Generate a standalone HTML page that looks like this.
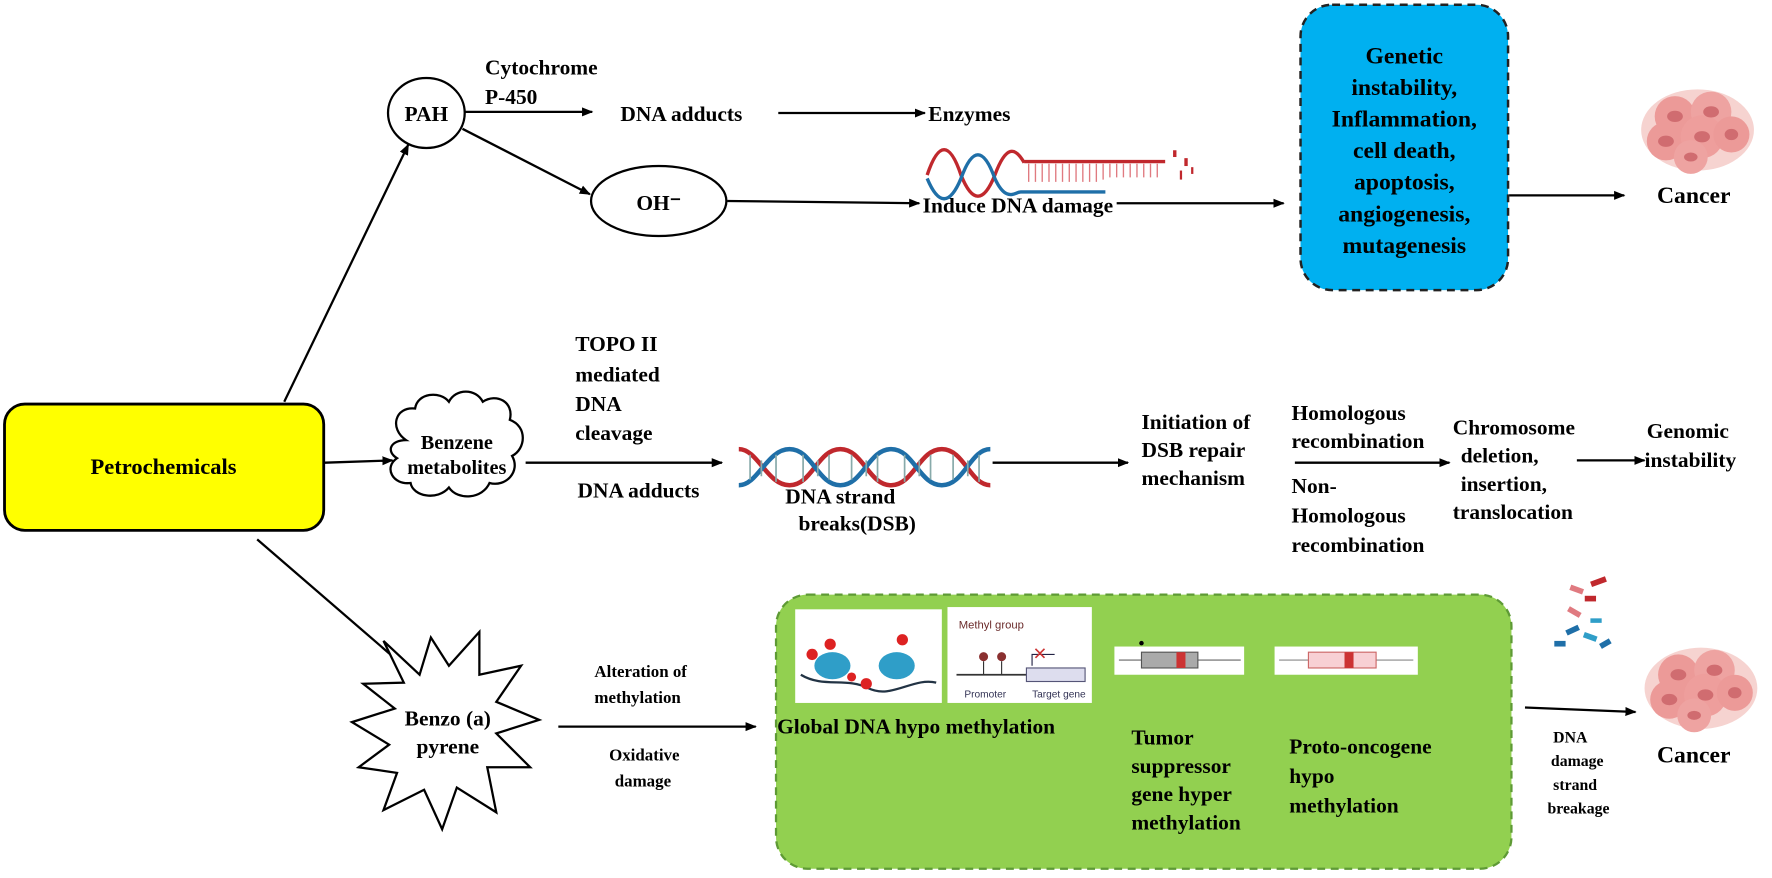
<!DOCTYPE html>
<html><head><meta charset="utf-8"><style>
html,body{margin:0;padding:0;background:#fff;}
svg{display:block;}
text{font-family:"Liberation Serif",serif;font-weight:bold;fill:#000;}
</style></head><body>
<svg width="1772" height="878" viewBox="0 0 1571 778" xmlns="http://www.w3.org/2000/svg">
<defs>
<marker id="a" markerWidth="10" markerHeight="10" refX="9" refY="5" orient="auto" markerUnits="userSpaceOnUse"><path d="M0,1 L10,5 L0,9 Z" fill="#000"/></marker>
<g id="cell">
<ellipse cx="0" cy="0" rx="50" ry="36" fill="#f6d3d0"/>
<circle cx="-20" cy="-12" r="18" fill="#ec9a98"/><circle cx="12" cy="-16" r="18" fill="#eea3a1"/>
<circle cx="-28" cy="10" r="17" fill="#ec9a98"/><circle cx="4" cy="6" r="19" fill="#ee9e9c"/>
<circle cx="30" cy="4" r="16" fill="#ec9a98"/><circle cx="-6" cy="24" r="15" fill="#eea3a1"/>
<ellipse cx="-20" cy="-12" rx="7" ry="5" fill="#d06c70"/><ellipse cx="12" cy="-16" rx="7" ry="5" fill="#d06c70"/>
<ellipse cx="-28" cy="10" rx="7" ry="5" fill="#d06c70"/><ellipse cx="4" cy="6" rx="7" ry="5" fill="#d06c70"/>
<ellipse cx="30" cy="4" rx="6" ry="5" fill="#d06c70"/><ellipse cx="-6" cy="24" rx="6" ry="4" fill="#d06c70"/>
</g>
</defs>

<!-- Petrochemicals -->
<rect x="4" y="358" width="283" height="112" rx="18" fill="#ffff00" stroke="#000" stroke-width="2.5"/>
<text x="145" y="420" font-size="20" text-anchor="middle">Petrochemicals</text>

<!-- connectors from petrochemicals -->
<line x1="252" y1="356" x2="362" y2="128" stroke="#000" stroke-width="2" marker-end="url(#a)"/>
<line x1="288" y1="410" x2="348" y2="408" stroke="#000" stroke-width="2" marker-end="url(#a)"/>
<line x1="228" y1="478" x2="360" y2="592" stroke="#000" stroke-width="2" marker-end="url(#a)"/>

<!-- PAH row -->
<ellipse cx="378" cy="100" rx="34" ry="31" fill="#fff" stroke="#000" stroke-width="2"/>
<text x="378" y="107" font-size="19" text-anchor="middle">PAH</text>
<text x="430" y="66" font-size="19">Cytochrome</text>
<text x="430" y="92" font-size="19">P-450</text>
<line x1="412" y1="99" x2="525" y2="99" stroke="#000" stroke-width="2" marker-end="url(#a)"/>
<text x="550" y="107" font-size="19">DNA adducts</text>
<line x1="690" y1="100" x2="820" y2="100" stroke="#000" stroke-width="2" marker-end="url(#a)"/>
<text x="823" y="107" font-size="19">Enzymes</text>
<line x1="410" y1="114" x2="523" y2="172" stroke="#000" stroke-width="2" marker-end="url(#a)"/>
<ellipse cx="584" cy="178" rx="60" ry="31" fill="#fff" stroke="#000" stroke-width="2"/>
<text x="584" y="186" font-size="19" text-anchor="middle">OH⁻</text>
<line x1="645" y1="178" x2="815" y2="180" stroke="#000" stroke-width="2" marker-end="url(#a)"/>
<text x="818" y="188" font-size="19">Induce DNA damage</text>
<!-- damaged DNA icon -->
<g stroke-width="3" fill="none">
<path d="M822,155 C832,125 842,125 852,155 C862,180 872,180 882,155 C892,128 900,130 908,144" stroke="#c0282d"/>
<path d="M822,158 C832,182 842,182 852,158 C862,130 872,130 882,158 C892,180 900,170 905,170 L980,170" stroke="#1f6fa8"/>
<line x1="908" y1="143" x2="1033" y2="143" stroke="#c0282d"/>
</g>
<g stroke="#e07a80" stroke-width="1.2">
<path d="M912,145v16M918,145v16M924,145v16M930,145v16M936,145v16M942,145v16M948,145v16M954,145v16M960,145v16M966,145v16M972,145v16M978,145v14M984,145v12M990,145v12M996,145v12M1002,145v12M1008,145v12M1014,145v12M1020,145v12M1026,145v12"/>
</g>
<g fill="#c0282d"><rect x="1040" y="133" width="3" height="6"/><rect x="1050" y="140" width="3" height="7"/><rect x="1046" y="151" width="2" height="8"/><rect x="1056" y="148" width="2" height="6"/></g>

<line x1="990" y1="180" x2="1138" y2="180" stroke="#000" stroke-width="2" marker-end="url(#a)"/>
<!-- blue box -->
<rect x="1153" y="4" width="184" height="253" rx="28" fill="#00b0f0" stroke="#222" stroke-width="2.2" stroke-dasharray="7,5"/>
<g font-size="21" text-anchor="middle">
<text x="1245" y="56">Genetic</text>
<text x="1245" y="84">instability,</text>
<text x="1245" y="112">Inflammation,</text>
<text x="1245" y="140">cell death,</text>
<text x="1245" y="168">apoptosis,</text>
<text x="1245" y="196">angiogenesis,</text>
<text x="1245" y="224">mutagenesis</text>
</g>
<line x1="1338" y1="173" x2="1440" y2="173" stroke="#000" stroke-width="2" marker-end="url(#a)"/>
<text x="1469" y="180" font-size="21">Cancer</text>
<use href="#cell" x="1505" y="115"/>

<!-- Benzene row -->
<path d="M360,390 C345,380 350,360 368,362 C370,348 390,346 398,356 C404,344 422,344 428,356 C440,348 456,356 452,372 C468,378 466,398 454,404 C462,418 448,432 434,428 C428,442 406,444 398,432 C388,444 366,440 364,428 C348,430 340,414 352,406 C342,400 346,390 360,390 Z" fill="#fff" stroke="#000" stroke-width="2"/>
<text x="405" y="398" font-size="18" text-anchor="middle">Benzene</text>
<text x="405" y="420" font-size="18" text-anchor="middle">metabolites</text>
<g font-size="19">
<text x="510" y="311">TOPO II</text>
<text x="510" y="338">mediated</text>
<text x="510" y="364">DNA</text>
<text x="510" y="390">cleavage</text>
<text x="512" y="441">DNA adducts</text>
</g>
<line x1="466" y1="410" x2="640" y2="410" stroke="#000" stroke-width="2" marker-end="url(#a)"/>
<!-- DNA helix -->
<g fill="none" stroke-width="4">
<path d="M655,398 C672,398 680,430 700,430 C720,430 725,398 745,398 C765,398 770,430 790,430 C810,430 815,398 835,398 C855,398 860,430 878,430" stroke="#c0282d"/>
<path d="M655,430 C672,430 680,398 700,398 C720,398 725,430 745,430 C765,430 770,398 790,398 C810,398 815,430 835,430 C855,430 860,398 878,398" stroke="#1f6fa8"/>
</g>
<g stroke="#8aa" stroke-width="1.5"><path d="M665,403v22M675,408v14M688,403v24M712,403v24M725,408v14M735,403v22M755,403v22M768,408v14M778,403v24M802,403v24M815,408v14M825,403v22M845,403v22M858,408v14M868,403v24"/></g>
<text x="745" y="446" font-size="19" text-anchor="middle">DNA strand</text>
<text x="760" y="470" font-size="19" text-anchor="middle">breaks(DSB)</text>
<line x1="880" y1="410" x2="1000" y2="410" stroke="#000" stroke-width="2" marker-end="url(#a)"/>
<g font-size="19">
<text x="1012" y="380">Initiation of</text>
<text x="1012" y="405">DSB repair</text>
<text x="1012" y="430">mechanism</text>
<text x="1145" y="372">Homologous</text>
<text x="1145" y="397">recombination</text>
<text x="1145" y="437">Non-</text>
<text x="1145" y="463">Homologous</text>
<text x="1145" y="489">recombination</text>
<text x="1288" y="385">Chromosome</text>
<text x="1295" y="410">deletion,</text>
<text x="1295" y="435">insertion,</text>
<text x="1288" y="460">translocation</text>
<text x="1460" y="388">Genomic</text>
<text x="1458" y="414">instability</text>
</g>
<line x1="1148" y1="410" x2="1285" y2="410" stroke="#000" stroke-width="2" marker-end="url(#a)"/>
<line x1="1398" y1="408" x2="1458" y2="408" stroke="#000" stroke-width="2" marker-end="url(#a)"/>

<!-- Benzo(a)pyrene star -->
<polygon points="340,568 372,598 382,565 398,590 425,560 425,598 462,590 440,622 478,638 440,650 470,680 432,680 440,720 405,698 392,735 376,700 340,718 352,685 318,680 345,660 312,640 350,628 322,606 358,605" fill="#fff" stroke="#000" stroke-width="2"/>
<text x="397" y="643" font-size="19" text-anchor="middle">Benzo (a)</text>
<text x="397" y="668" font-size="19" text-anchor="middle">pyrene</text>
<g font-size="15">
<text x="527" y="600">Alteration of</text>
<text x="527" y="623">methylation</text>
<text x="540" y="674">Oxidative</text>
<text x="545" y="697">damage</text>
</g>
<line x1="495" y1="644" x2="670" y2="644" stroke="#000" stroke-width="2" marker-end="url(#a)"/>

<!-- green box -->
<rect x="688" y="527" width="652" height="243" rx="28" fill="#92d050" stroke="#5e9a35" stroke-width="2" stroke-dasharray="7,5"/>
<rect x="705" y="540" width="130" height="83" fill="#fff"/>
<g>
<ellipse cx="738" cy="590" rx="16" ry="12" fill="#2f9ec8"/><ellipse cx="795" cy="590" rx="16" ry="12" fill="#2f9ec8"/>
<path d="M710,598 C730,610 750,600 770,610 C790,620 810,600 830,605" stroke="#234" stroke-width="2" fill="none"/>
<circle cx="720" cy="580" r="5" fill="#d22"/><circle cx="736" cy="571" r="5" fill="#d22"/><circle cx="768" cy="606" r="5" fill="#d22"/><circle cx="755" cy="600" r="4" fill="#d22"/><circle cx="800" cy="567" r="5" fill="#d22"/>
</g>
<rect x="840" y="538" width="128" height="85" fill="#fff"/>
<text x="850" y="557" font-size="10" font-weight="normal" style="font-family:'Liberation Sans',sans-serif;font-weight:normal;fill:#6a2a2a">Methyl group</text>
<line x1="848" y1="598" x2="962" y2="598" stroke="#333" stroke-width="1.5"/>
<circle cx="872" cy="582" r="4" fill="#8a3030"/><circle cx="888" cy="582" r="4" fill="#8a3030"/>
<path d="M872,586v12M888,586v12" stroke="#333"/>
<rect x="910" y="592" width="52" height="12" fill="#dde" stroke="#557"/>
<path d="M915,590v-10h20" stroke="#224" fill="none"/><path d="M918,575l8,8M926,575l-8,8" stroke="#c33" stroke-width="1.5"/>
<text x="855" y="618" font-size="9" style="font-family:'Liberation Sans',sans-serif;font-weight:normal;fill:#335">Promoter</text>
<text x="915" y="618" font-size="9" style="font-family:'Liberation Sans',sans-serif;font-weight:normal;fill:#335">Target gene</text>
<rect x="988" y="573" width="115" height="25" fill="#fff"/>
<line x1="992" y1="585" x2="1100" y2="585" stroke="#666"/>
<rect x="1012" y="578" width="50" height="14" fill="#aaa" stroke="#555"/><rect x="1043" y="578" width="8" height="14" fill="#c33"/>
<circle cx="1012" cy="570" r="2" fill="#000"/>
<rect x="1130" y="573" width="127" height="25" fill="#fff"/>
<line x1="1134" y1="585" x2="1253" y2="585" stroke="#888"/>
<rect x="1160" y="578" width="60" height="14" fill="#f8d0d4" stroke="#c66"/><rect x="1192" y="578" width="8" height="14" fill="#c33"/>
<text x="689" y="650" font-size="19">Global DNA hypo methylation</text>
<g font-size="19">
<text x="1003" y="660">Tumor</text>
<text x="1003" y="685">suppressor</text>
<text x="1003" y="710">gene hyper</text>
<text x="1003" y="735">methylation</text>
<text x="1143" y="668">Proto-oncogene</text>
<text x="1143" y="694">hypo</text>
<text x="1143" y="720">methylation</text>
</g>
<line x1="1352" y1="627" x2="1450" y2="631" stroke="#000" stroke-width="2" marker-end="url(#a)"/>
<g font-size="14">
<text x="1377" y="658">DNA</text>
<text x="1375" y="679">damage</text>
<text x="1377" y="700">strand</text>
<text x="1372" y="721">breakage</text>
</g>
<text x="1469" y="676" font-size="21">Cancer</text>
<use href="#cell" x="1508" y="610"/>
<!-- DNA fragments -->
<g>
<rect x="1410" y="513" width="14" height="5" fill="#c0282d" transform="rotate(-20 1417 515)"/>
<rect x="1392" y="520" width="12" height="5" fill="#e07a80" transform="rotate(20 1398 522)"/>
<rect x="1405" y="528" width="10" height="5" fill="#c0282d"/>
<rect x="1390" y="540" width="12" height="5" fill="#e07a80" transform="rotate(30 1396 542)"/>
<rect x="1410" y="548" width="10" height="4" fill="#2f9ec8"/>
<rect x="1388" y="556" width="12" height="5" fill="#1f6fa8" transform="rotate(-25 1394 558)"/>
<rect x="1404" y="562" width="12" height="5" fill="#2f9ec8" transform="rotate(20 1410 564)"/>
<rect x="1378" y="568" width="10" height="5" fill="#1f6fa8"/>
<rect x="1418" y="568" width="10" height="5" fill="#1f6fa8" transform="rotate(-30 1423 570)"/>
</g>
</svg>
</body></html>
